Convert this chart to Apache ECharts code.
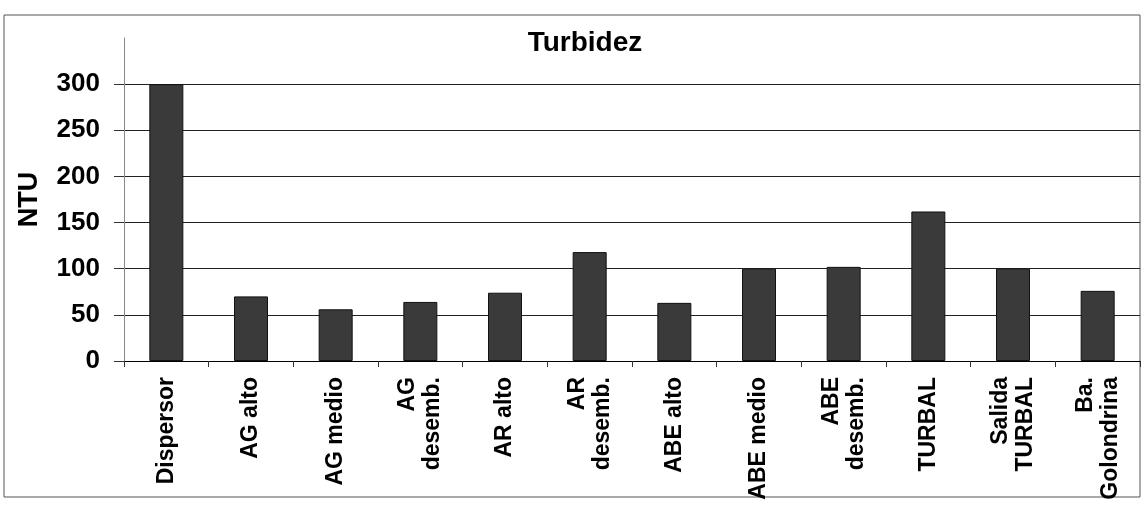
<!DOCTYPE html>
<html>
<head>
<meta charset="utf-8">
<script src="https://cdn.jsdelivr.net/npm/echarts@6/dist/echarts.min.js"></script>
<style>
  html, body { margin: 0; padding: 0; background: #fff; }
  #chart { width: 1145px; height: 507px; }
</style>
</head>
<body>
<div id="chart"></div>
<script>
// sampling points along the river
const categories = [
  'Dispersor', 'AG alto', 'AG medio', 'AG\ndesemb.', 'AR alto', 'AR\ndesemb.',
  'ABE alto', 'ABE medio', 'ABE\ndesemb.', 'TURBAL', 'Salida\nTURBAL', 'Ba.\nGolondrina'
];
// turbidity, NTU
const turbidez = [300, 70, 56, 64, 74, 118, 63, 100, 102, 162, 100, 76];

const font = '"Liberation Sans", Arial, sans-serif';

let myChart = echarts.init(document.getElementById('chart'));
myChart.setOption({
  animation: false,
  backgroundColor: '#fff',
  title: {
    text: 'Turbidez',
    left: 580,
    top: 24,
    textAlign: 'center',
    textStyle: {
      fontFamily: font,
      fontSize: 28,
      fontWeight: 'bold',
      color: '#000'
    }
  },
  graphic: [{
    type: 'rect',
    shape: { x: 4, y: 15, width: 1136, height: 482 },
    style: { fill: 'none', stroke: '#555', lineWidth: 1 },
    silent: true
  }],
  grid: {
    left: 124,
    right: 5,
    top: 38,
    bottom: 146
  },
  xAxis: {
    type: 'category',
    data: categories,
    axisLine: {
      lineStyle: { color: '#000', width: 1 }
    },
    axisTick: {
      show: true,
      length: 6,
      lineStyle: { color: '#333' }
    },
    axisLabel: {
      rotate: 90,
      interval: 0,
      margin: 16,
      align: 'right',
      color: '#000',
      fontFamily: font,
      fontSize: 23,
      fontWeight: 'bold',
      lineHeight: 25
    }
  },
  yAxis: {
    type: 'value',
    min: 0,
    max: 350,
    interval: 50,
    name: 'NTU',
    nameLocation: 'middle',
    nameGap: 81,
    nameTextStyle: {
      fontFamily: font,
      fontSize: 27,
      fontWeight: 'bold',
      color: '#000'
    },
    axisLine: {
      show: true,
      lineStyle: { color: '#888', width: 1 }
    },
    axisTick: {
      show: true,
      length: 10,
      lineStyle: { color: '#333' }
    },
    axisLabel: {
      showMaxLabel: false,
      margin: 24,
      color: '#000',
      fontFamily: font,
      fontSize: 26,
      fontWeight: 'bold'
    },
    splitLine: {
      showMaxLine: false,
      lineStyle: { color: '#222', width: 1 }
    }
  },
  series: [{
    name: 'Turbidez',
    type: 'bar',
    data: turbidez,
    barWidth: 34,
    itemStyle: {
      color: '#3a3a3a',
      borderColor: '#111',
      borderWidth: 1
    }
  }]
});
</script>
</body>
</html>
